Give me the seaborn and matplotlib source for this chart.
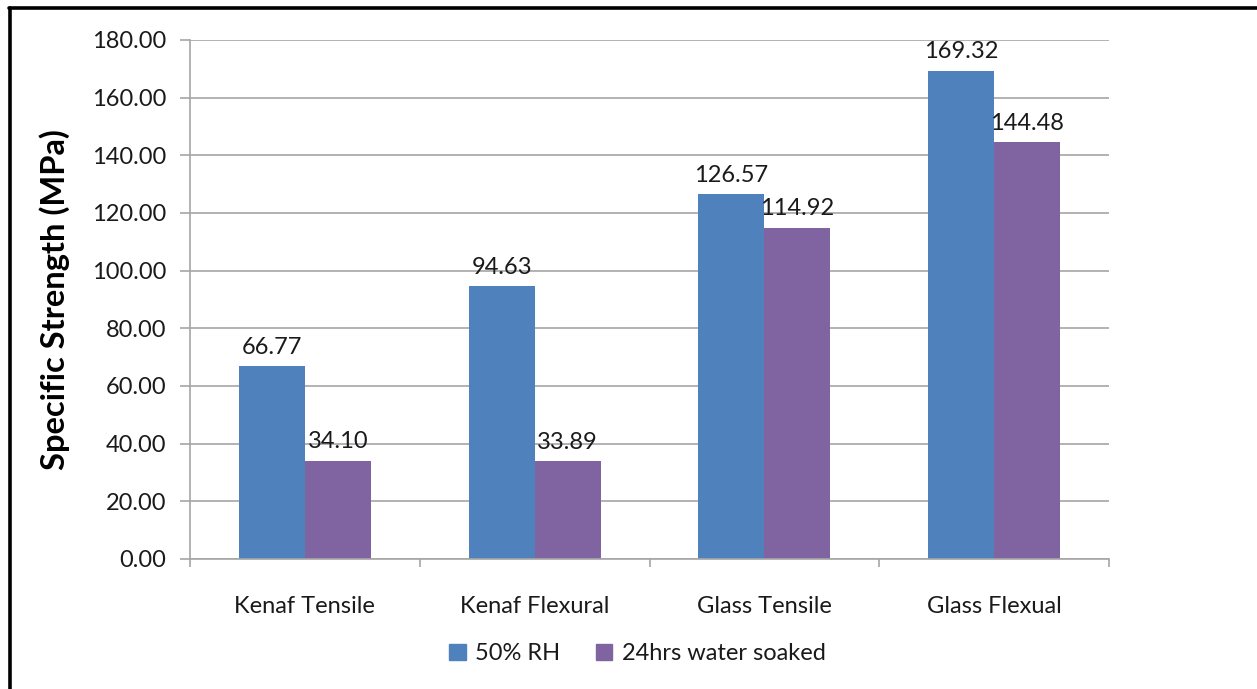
import matplotlib
matplotlib.use("Agg")
import matplotlib.pyplot as plt
from matplotlib.lines import Line2D
from matplotlib.ticker import FixedLocator
import seaborn as sns
import pandas as pd

categories = ["Kenaf Tensile", "Kenaf Flexural", "Glass Tensile", "Glass Flexual"]
rh50 = [66.77, 94.63, 126.57, 169.32]
soaked = [34.10, 33.89, 114.92, 144.48]
series = ["50% RH", "24hrs water soaked"]
yticks = [0, 20, 40, 60, 80, 100, 120, 140, 160, 180]

df = pd.DataFrame({
    "category": categories * 2,
    "value": rh50 + soaked,
    "series": [series[0]] * len(categories) + [series[1]] * len(categories),
})

sns.set_theme(style="white")
plt.rcParams["font.family"] = ["Lato", "DejaVu Sans"]

fig = plt.figure(figsize=(12.57, 6.89), dpi=100)
ax = fig.add_axes([0.1512, 0.1887, 0.7311, 0.7533])

palette = {series[0]: "#4F81BD", series[1]: "#8064A2"}
sns.barplot(data=df, x="category", y="value", hue="series", order=categories,
            hue_order=series, palette=palette, width=0.575, gap=0,
            saturation=1, ax=ax, legend=False, linewidth=0, errorbar=None)

grid_c = "#A6A6A6"
txt_c = "#1A1A1A"
fs = 17
ax.set_xlim(-0.5, len(categories) - 0.5)
ax.set_ylim(0, 180)
ax.set_yticks(yticks)
ax.set_yticklabels([f"{v:.2f}" for v in yticks])
ax.yaxis.grid(True, color=grid_c, linewidth=1.2)
ax.set_axisbelow(True)
for s in ["top", "right"]:
    ax.spines[s].set_visible(False)
for s in ["left", "bottom"]:
    ax.spines[s].set_color(grid_c)
    ax.spines[s].set_linewidth(1.2)

ax.tick_params(axis="y", which="major", length=7, width=1.2, color=grid_c,
               labelsize=fs, labelcolor=txt_c, pad=10, left=True)
ax.tick_params(axis="x", which="major", length=0, labelsize=fs,
               labelcolor=txt_c, pad=27)
ax.xaxis.set_minor_locator(FixedLocator([i - 0.5 for i in range(len(categories) + 1)]))
ax.tick_params(axis="x", which="minor", length=6, width=1.2, color=grid_c, bottom=True)

ax.set_xlabel("")
ax.set_ylabel("Specific Strength (MPa)", fontsize=23.5, fontweight="bold",
              color="black", labelpad=16)

for cont in ax.containers:
    ax.bar_label(cont, labels=[f"{b.get_height():.2f}" for b in cont],
                 padding=6, fontsize=fs, color=txt_c)

handles = [plt.Rectangle((0, 0), 1, 1, color=palette[s]) for s in series]
fig.legend(handles, series, loc="center", bbox_to_anchor=(0.507, 0.051),
           ncol=2, frameon=False, fontsize=fs, handlelength=0.7,
           handleheight=0.7, handletextpad=0.4, columnspacing=1.5,
           labelcolor=txt_c)

# frame lines along top and left edges
fig.add_artist(Line2D([10 / 1257, 10 / 1257], [0, 1 - 8 / 689],
                      transform=fig.transFigure, color="black", linewidth=2.6))
fig.add_artist(Line2D([9 / 1257, 1], [1 - 8 / 689, 1 - 8 / 689],
                      transform=fig.transFigure, color="black", linewidth=2.6))

fig.savefig("out.png", dpi=100, facecolor="white")
